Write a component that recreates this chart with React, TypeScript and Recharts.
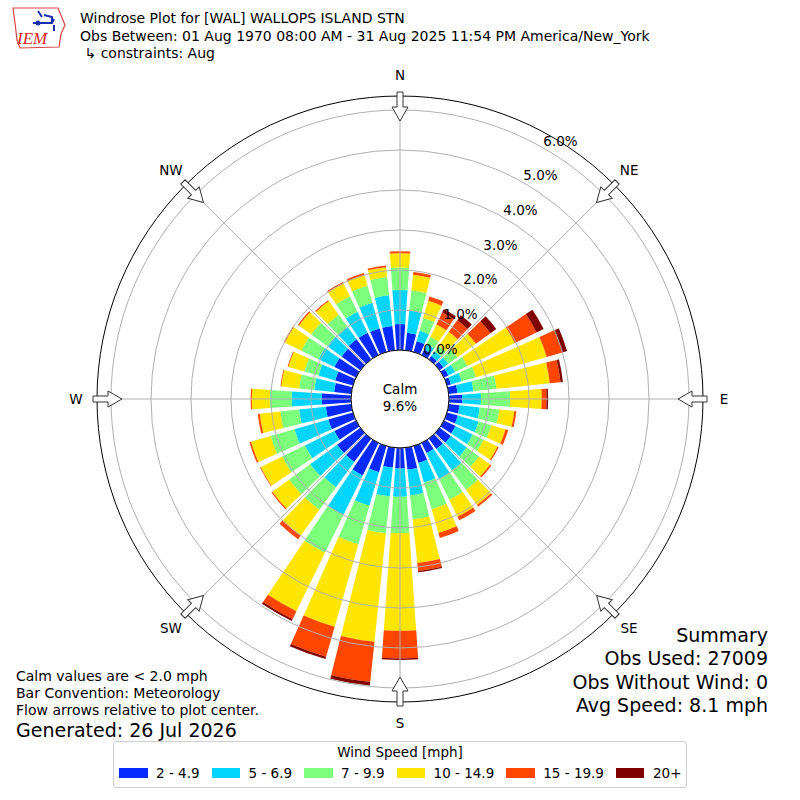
import React from 'react';
import { RadialBarChart, RadialBar, PolarAngleAxis, PolarRadiusAxis, PolarGrid } from 'recharts';

// wind directions (deg, meteorological) and frequency (%) per speed bin
const directions = [0, 10, 20, 30, 40, 50, 60, 70, 80, 90, 100, 110, 120, 130, 140, 150, 160, 170,
  180, 190, 200, 210, 220, 230, 240, 250, 260, 270, 280, 290, 300, 310, 320, 330, 340, 350];

const speed2to5 = [0.65, 0.44, 0.28, 0.15, 0.10, 0.12, 0.12, 0.10, 0.22, 0.33, 0.27, 0.28, 0.32, 0.35, 0.32, 0.28, 0.44, 0.55,
  0.51, 0.50, 0.68, 0.90, 0.72, 0.72, 0.60, 0.64, 0.64, 0.73, 0.43, 0.46, 0.60, 0.58, 0.62, 0.62, 0.61, 0.61];
const speed5to7 = [0.85, 0.56, 0.27, 0.15, 0.15, 0.15, 0.19, 0.28, 0.40, 0.47, 0.51, 0.54, 0.48, 0.49, 0.66, 0.72, 0.51, 0.65,
  0.71, 0.72, 0.87, 1.10, 0.78, 0.83, 0.82, 0.88, 0.67, 0.75, 0.50, 0.44, 0.44, 0.44, 0.38, 0.58, 0.67, 0.77];
const speed7to10 = [0.56, 0.50, 0.33, 0.20, 0.17, 0.28, 0.34, 0.37, 0.58, 0.73, 0.49, 0.33, 0.30, 0.38, 0.60, 0.58, 0.69, 0.60,
  0.91, 0.93, 1.00, 1.05, 0.70, 0.65, 0.63, 0.62, 0.47, 0.55, 0.38, 0.36, 0.48, 0.50, 0.38, 0.43, 0.44, 0.46];
const speed10to15 = [0.36, 0.40, 0.45, 0.35, 0.43, 0.57, 1.32, 1.84, 1.34, 0.79, 0.38, 0.37, 0.39, 0.34, 0.47, 0.47, 0.62, 1.10,
  2.44, 2.73, 2.15, 1.63, 0.80, 0.52, 0.60, 0.51, 0.52, 0.45, 0.45, 0.42, 0.46, 0.38, 0.42, 0.36, 0.28, 0.25];
const speed15to20 = [0.05, 0.07, 0.11, 0.33, 0.36, 0.45, 0.60, 0.41, 0.27, 0.12, 0.05, 0.07, 0.03, 0.04, 0.05, 0.10, 0.13, 0.20,
  0.69, 1.01, 0.78, 0.22, 0.11, 0.03, 0.02, 0.04, 0.05, 0.03, 0.02, 0.02, 0.03, 0.03, 0.03, 0.04, 0.05, 0.04];
const speed20plus = [0, 0, 0, 0.09, 0.15, 0.18, 0.20, 0.12, 0.06, 0.04, 0, 0, 0, 0, 0, 0, 0, 0.03,
  0.04, 0.09, 0.06, 0.05, 0, 0, 0, 0, 0, 0, 0, 0, 0, 0, 0, 0, 0, 0];

const binKeys = ['s1', 's2', 's3', 's4', 's5', 's6'];
const binLabels = ['2 - 4.9', '5 - 6.9', '7 - 9.9', '10 - 14.9', '15 - 19.9', '20+'];
const binColors = ['#0529ff', '#00d5ff', '#7cff7a', '#ffe600', '#ff4600', '#800000'];

const compassTicks = [0, 45, 90, 135, 180, 225, 270, 315];
const compassLabels = ['N', 'NE', 'E', 'SE', 'S', 'SW', 'W', 'NW'];
const radiusTicks = [0, 1, 2, 3, 4, 5, 6];

const summaryLines = ['Summary', 'Obs Used: 27009', 'Obs Without Wind: 0', 'Avg Speed: 8.1 mph'];
const noteLines = ['Calm values are < 2.0 mph', 'Bar Convention: Meteorology', 'Flow arrows relative to plot center.'];

const data = directions.map((d, i) => ({
  dir: d,
  s1: speed2to5[i],
  s2: speed5to7[i],
  s3: speed7to10[i],
  s4: speed10to15[i],
  s5: speed15to20[i],
  s6: speed20plus[i],
}));

const CX = 400;
const CY = 399;
const CALM_R = 49;
const OUTER_R = 303;
const FONT = '"DejaVu Sans", sans-serif';
const FULL: React.CSSProperties = { position: 'absolute', left: 0, top: 0, pointerEvents: 'none' };

// compass bearing -> recharts angle (counter-clockwise from east)
const toChartAngle = (bearing: number) => 90 - bearing;

const RadiusTick = (props: any) => {
  const { x, y, payload } = props;
  return (
    <text x={x + 16} y={y - 8} textAnchor="middle" dominantBaseline="central" fontSize={13.5} fill="#000" fontFamily={FONT}>
      {Number(payload.value).toFixed(1)}%
    </text>
  );
};

// hollow flow arrows on the rim plus direction names
const Compass = () => (
  <svg width={800} height={800} style={FULL}>
    {compassTicks.map((b, i) => {
      const rad = (b * Math.PI) / 180;
      return (
        <g key={b}>
          <polygon
            points="278,0 292,-8 292,-3 307,-3 307,3 292,3 292,8"
            transform={`translate(${CX},${CY}) rotate(${b - 90})`}
            fill="#fff"
            stroke="#333"
            strokeWidth={1}
          />
          <text
            x={CX + 324 * Math.sin(rad)}
            y={CY - 324 * Math.cos(rad)}
            textAnchor="middle"
            dominantBaseline="central"
            fontSize={13.5}
            fill="#000"
            fontFamily={FONT}
          >
            {compassLabels[i]}
          </text>
        </g>
      );
    })}
  </svg>
);

const Logo = () => (
  <svg width={60} height={50} style={{ position: 'absolute', left: 8, top: 3 }}>
    <path d="M5 5 L50 5 L52 10 L57 22 L53 31 L51 44 L12 45 L9 37 L7 20 Z" fill="#fff" stroke="#d44" strokeWidth={1.2} />
    <path d="M30 8 L34 14 M25 20 L44 20 L46 16 M36 12 L44 14 L44 20 M46 22 L46 28" stroke="#1a2fb0" strokeWidth={2} fill="none" />
    <circle cx={30} cy={20} r={2.5} fill="#1a2fb0" />
    <text x={9} y={41} fontSize={17} fontStyle="italic" fill="#d22" fontFamily='"Liberation Serif", serif'>IEM</text>
  </svg>
);

// the first direction band starts at 85deg, so 10deg-wide bands are centred on N, 10, 20 ...
const chartProps = {
  width: 800,
  height: 800,
  cx: CX,
  cy: CY,
  innerRadius: CALM_R,
  outerRadius: OUTER_R,
  startAngle: 85,
  endAngle: -275,
  layout: 'centric' as const,
  data,
  barCategoryGap: '10%',
  margin: { top: 0, right: 0, bottom: 0, left: 0 },
};

const Axes = ({ labels }: { labels: boolean }) => (
  <>
    <PolarAngleAxis angleAxisId="cat" dataKey="dir" type="category" tick={false} axisLine={false} tickLine={false} />
    <PolarRadiusAxis
      radiusAxisId="r"
      type="number"
      domain={[0, 6.35]}
      allowDataOverflow
      ticks={radiusTicks}
      angle={60}
      axisLine={false}
      tickLine={false}
      tick={labels ? RadiusTick : false}
    />
  </>
);

export default function App() {
  return (
    <div style={{ position: 'absolute', left: 0, top: 0, width: 800, height: 800, background: '#fff', fontFamily: FONT, color: '#000' }}>
      <div style={{ position: 'absolute', left: 0, top: 0 }}>
        <RadialBarChart {...chartProps}>
          {Axes({ labels: false })}
          {binKeys.map((k, i) => (
            <RadialBar
              key={k}
              dataKey={k}
              stackId="a"
              angleAxisId="cat"
              radiusAxisId="r"
              fill={binColors[i]}
              isAnimationActive={false}
            />
          ))}
        </RadialBarChart>
      </div>

      {/* grid and radius labels drawn over the bars, as in the original */}
      <div style={FULL}>
        <RadialBarChart {...chartProps}>
          {Axes({ labels: true })}
          <PolarGrid
            angleAxisId="cat"
            radiusAxisId="r"
            gridType="circle"
            polarAngles={compassTicks.map(toChartAngle)}
            stroke="#b0b0b0"
            strokeWidth={1}
          />
          <PolarGrid angleAxisId="cat" radiusAxisId="r" gridType="circle" polarRadius={[OUTER_R]} radialLines={false} stroke="#000" strokeWidth={1} />
          <PolarGrid angleAxisId="cat" radiusAxisId="r" gridType="circle" polarRadius={[CALM_R]} radialLines={false} stroke="#000" strokeWidth={1} />
        </RadialBarChart>
      </div>

      <Compass />
      <Logo />

      <div style={{ position: 'absolute', left: 80, top: 10, fontSize: 14, lineHeight: '17.5px', whiteSpace: 'nowrap' }}>
        <div>Windrose Plot for [WAL] WALLOPS ISLAND STN</div>
        <div>Obs Between: 01 Aug 1970 08:00 AM - 31 Aug 2025 11:54 PM America/New_York</div>
        <div>&nbsp;↳ constraints: Aug</div>
      </div>

      <div style={{ position: 'absolute', left: 350, width: 100, top: 381, textAlign: 'center', fontSize: 13.5, lineHeight: '17px' }}>
        <div>Calm</div>
        <div>9.6%</div>
      </div>

      <div style={{ position: 'absolute', left: 16, top: 667.5, fontSize: 14, lineHeight: '17px', whiteSpace: 'nowrap' }}>
        {noteLines.map((t) => (
          <div key={t}>{t}</div>
        ))}
        <div style={{ fontSize: 19, lineHeight: '22px' }}>Generated: 26 Jul 2026</div>
      </div>

      <div style={{ position: 'absolute', right: 32, top: 624, fontSize: 19, lineHeight: '23.3px', textAlign: 'right', whiteSpace: 'nowrap' }}>
        {summaryLines.map((t) => (
          <div key={t}>{t}</div>
        ))}
      </div>

      <div
        style={{
          position: 'absolute', left: 113, top: 741, width: 574, height: 47, boxSizing: 'border-box',
          border: '1px solid #d0d0d0', borderRadius: 3, background: '#fff',
        }}
      >
        <div style={{ textAlign: 'center', fontSize: 13.5, marginTop: 2, lineHeight: '17px' }}>Wind Speed [mph]</div>
        <div style={{ display: 'flex', alignItems: 'center', marginLeft: 5, marginTop: 4, fontSize: 13.5, whiteSpace: 'nowrap' }}>
          {binLabels.map((l, i) => (
            <div key={l} style={{ display: 'flex', alignItems: 'center', marginRight: 12, flexShrink: 0 }}>
              <div style={{ width: 28.5, height: 10, background: binColors[i], marginRight: 8.5 }} />
              <span>{l}</span>
            </div>
          ))}
        </div>
      </div>
    </div>
  );
}
